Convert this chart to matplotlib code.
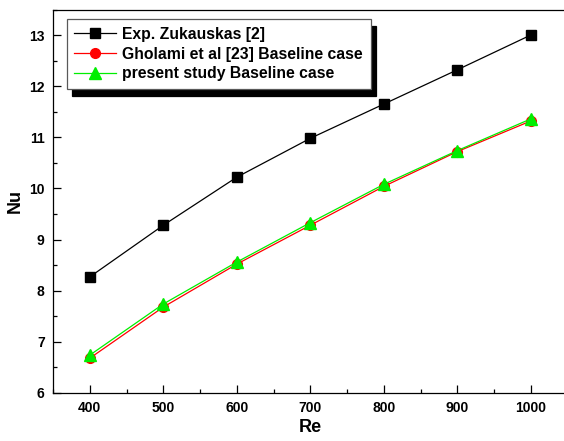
import matplotlib
matplotlib.use("Agg")
import matplotlib.pyplot as plt
from matplotlib.ticker import MultipleLocator

plt.rcParams['font.family'] = ['Liberation Sans', 'DejaVu Sans']
plt.rcParams['font.weight'] = 'bold'

re_vals = [400, 500, 600, 700, 800, 900, 1000]
nu_zukauskas = [8.27, 9.28, 10.22, 10.98, 11.65, 12.32, 13.0]
nu_gholami = [6.68, 7.68, 8.52, 9.28, 10.04, 10.72, 11.32]
nu_present = [6.74, 7.74, 8.56, 9.33, 10.08, 10.74, 11.36]

fig = plt.figure(figsize=(5.64, 4.41), dpi=100)
ax = fig.add_axes([53 / 564, 48 / 441, 514.5 / 564, 383.5 / 441])

ax.plot(re_vals, nu_zukauskas, color='black', lw=0.9, marker='s', ms=7.5,
        label='Exp. Zukauskas [2]')
ax.plot(re_vals, nu_gholami, color='red', lw=0.9, marker='o', ms=7,
        label='Gholami et al [23] Baseline case')
ax.plot(re_vals, nu_present, color='#00ee00', lw=0.9, marker='^', ms=8,
        label='present study Baseline case')

ax.set_xlim(350, 1050)
ax.set_ylim(6, 13.5)
ax.xaxis.set_major_locator(MultipleLocator(100))
ax.xaxis.set_minor_locator(MultipleLocator(50))
ax.yaxis.set_major_locator(MultipleLocator(1))
ax.yaxis.set_minor_locator(MultipleLocator(0.5))
ax.tick_params(which='both', direction='in', labelsize=10, width=0.9)
ax.tick_params(which='major', length=5.5, pad=6)
ax.tick_params(which='minor', length=3)
for lab in ax.get_xticklabels() + ax.get_yticklabels():
    lab.set_fontweight('bold')
for sp in ax.spines.values():
    sp.set_linewidth(0.9)
ax.spines['right'].set_visible(False)

ax.set_xlabel('Re', fontsize=13, fontweight='bold', labelpad=3)
ax.set_ylabel('Nu', fontsize=13, fontweight='bold', labelpad=4)

leg = ax.legend(loc='upper left', bbox_to_anchor=(66.5 / 564, 1 - 19 / 441),
                bbox_transform=fig.transFigure, borderaxespad=0,
                fancybox=False, framealpha=1, edgecolor='0.35',
                prop={'size': 11.3, 'weight': 'bold'},
                handlelength=2.65, handletextpad=0.4, labelspacing=0.3,
                borderpad=0.5,
                shadow={'ox': 4, 'oy': -5, 'color': 'black', 'alpha': 1})
leg.get_frame().set_linewidth(0.9)

fig.savefig('out.png', dpi=100)
